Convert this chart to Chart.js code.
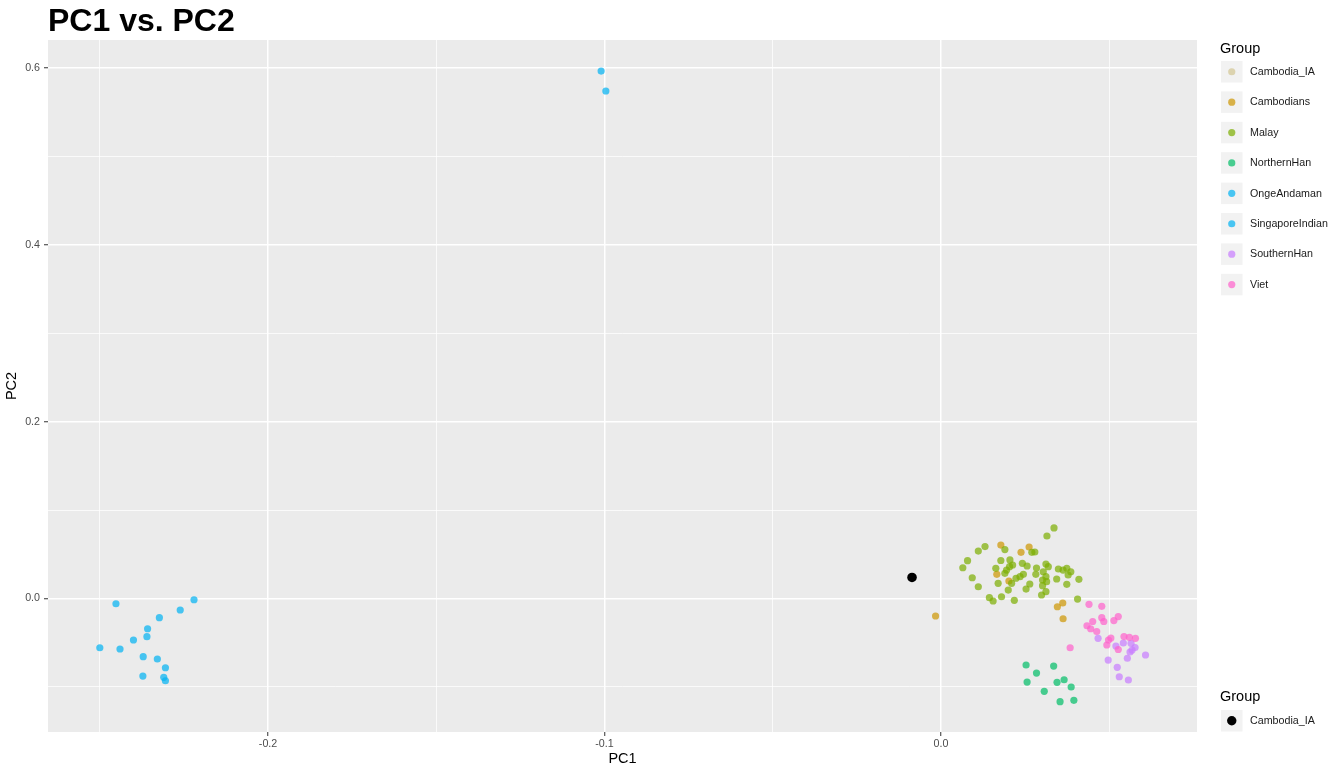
<!DOCTYPE html>
<html>
<head>
<meta charset="utf-8">
<title>PC1 vs. PC2</title>
<script src="https://cdn.jsdelivr.net/npm/chart.js@4.4.0/dist/chart.umd.min.js"></script>
<style>
    html, body { margin: 0; padding: 0; background: #fff; }
    #wrap { width: 1343px; height: 775px; }
</style>
</head>
<body>
<div id="wrap"><canvas id="pcaChart" width="1343" height="775"></canvas></div>
<script>
// groups in legend order
const groups = ["Cambodia_IA", "Cambodians", "Malay", "NorthernHan", "OngeAndaman", "SingaporeIndian", "SouthernHan", "Viet"];
const groupColors = [
    "rgba(205,190,130,0.6)",
    "rgba(205,150,0,0.7)",
    "rgba(124,174,0,0.7)",
    "rgba(0,190,103,0.7)",
    "rgba(0,178,242,0.7)",
    "rgba(0,178,242,0.7)",
    "rgba(199,124,255,0.7)",
    "rgba(255,97,204,0.7)"
];

// [PC1, PC2] per sample
const cambodiaIA = [[-0.0086, 0.0238]];
const cambodians = [
    [-0.0016, -0.0198], [0.0178, 0.0605], [0.0262, 0.0583], [0.0238, 0.0523], [0.0166, 0.0274],
    [0.0202, 0.0198], [0.0346, -0.0093], [0.0362, -0.0051], [0.0363, -0.0229]
];
const malay = [
    [0.0336, 0.0798], [0.0315, 0.0707], [0.0131, 0.0588], [0.0111, 0.0537], [0.0190, 0.0554],
    [0.0279, 0.0526], [0.0079, 0.0428], [0.0065, 0.0348], [0.0178, 0.0430], [0.0205, 0.0436],
    [0.0204, 0.0360], [0.0163, 0.0342], [0.0242, 0.0398], [0.0256, 0.0368], [0.0284, 0.0345],
    [0.0312, 0.0390], [0.0319, 0.0360], [0.0349, 0.0334], [0.0363, 0.0322], [0.0374, 0.0342],
    [0.0386, 0.0303], [0.0378, 0.0266], [0.0195, 0.0322], [0.0213, 0.0379], [0.0190, 0.0285],
    [0.0245, 0.0274], [0.0235, 0.0247], [0.0223, 0.0229], [0.0282, 0.0274], [0.0304, 0.0303],
    [0.0312, 0.0247], [0.0302, 0.0209], [0.0093, 0.0235], [0.0111, 0.0133], [0.0170, 0.0172],
    [0.0264, 0.0164], [0.0314, 0.0190], [0.0253, 0.0107], [0.0200, 0.0096], [0.0302, 0.0145],
    [0.0312, 0.0077], [0.0299, 0.0040], [0.0144, 0.0009], [0.0155, -0.0028], [0.0180, 0.0020],
    [0.0218, -0.0020], [0.0410, 0.0217], [0.0374, 0.0161], [0.0344, 0.0221], [0.0406, -0.0006],
    [0.0210, 0.0172], [0.0270, 0.0523]
];
const northernHan = [
    [0.0253, -0.0752], [0.0284, -0.0843], [0.0335, -0.0764], [0.0256, -0.0945], [0.0366, -0.0919],
    [0.0345, -0.0948], [0.0387, -0.1001], [0.0307, -0.1050], [0.0354, -0.1167], [0.0395, -0.1152]
];
const ongeAndaman = [
    [-0.2452, -0.0059], [-0.2220, -0.0014], [-0.2261, -0.0130], [-0.2323, -0.0217], [-0.2358, -0.0342],
    [-0.2360, -0.0432], [-0.2400, -0.0469], [-0.2500, -0.0557], [-0.2440, -0.0571], [-0.2371, -0.0658],
    [-0.2329, -0.0684], [-0.2305, -0.0783], [-0.2372, -0.0877], [-0.2310, -0.0891], [-0.2305, -0.0930]
];
const singaporeIndian = [[-0.1010, 0.5967], [-0.0996, 0.5741]];
const southernHan = [
    [0.0467, -0.0450], [0.0520, -0.0537], [0.0542, -0.0503], [0.0565, -0.0507], [0.0577, -0.0554],
    [0.0562, -0.0605], [0.0554, -0.0676], [0.0608, -0.0639], [0.0497, -0.0696], [0.0524, -0.0778],
    [0.0530, -0.0885], [0.0557, -0.0922], [0.0568, -0.0583]
];
const viet = [
    [0.0440, -0.0066], [0.0478, -0.0088], [0.0451, -0.0260], [0.0434, -0.0308], [0.0445, -0.0342],
    [0.0463, -0.0373], [0.0478, -0.0217], [0.0484, -0.0260], [0.0514, -0.0249], [0.0527, -0.0204],
    [0.0498, -0.0469], [0.0493, -0.0526], [0.0527, -0.0577], [0.0544, -0.0430], [0.0560, -0.0439],
    [0.0578, -0.0450], [0.0384, -0.0557], [0.0505, -0.0447]
];
const groupPoints = [cambodiaIA, cambodians, malay, northernHan, ongeAndaman, singaporeIndian, southernHan, viet];

// axes
const xRange = [-0.2654, 0.0761];
const yRange = [-0.151, 0.6318];
const xTickValues = [-0.2, -0.1, 0.0];
const xTickLabels = ["-0.2", "-0.1", "0.0"];
const xMinorValues = [-0.25, -0.15, -0.05, 0.05];
const yTickValues = [0.0, 0.2, 0.4, 0.6];
const yTickLabels = ["0.0", "0.2", "0.4", "0.6"];
const yMinorValues = [-0.1, 0.1, 0.3, 0.5];

const FONT = '"Liberation Sans", Arial, Helvetica, sans-serif';
Chart.defaults.font.family = FONT;

function findMajor(values, v) {
    return values.findIndex(m => Math.abs(m - v) < 1e-9);
}

function axisOptions(range, majors, minors, labels, isX) {
    const all = majors.concat(minors).sort((a, b) => a - b);
    return {
        type: "linear",
        min: range[0],
        max: range[1],
        afterBuildTicks: s => { s.ticks = all.map(v => ({ value: v })); },
        afterFit: s => {
            if (isX) s.height = 43; else s.width = 48;
        },
        ticks: {
            autoSkip: false,
            maxRotation: 0,
            padding: isX ? 2 : 4,
            color: "#4D4D4D",
            font: { size: 10.7 },
            callback: v => {
                const i = findMajor(majors, v);
                return i >= 0 ? labels[i] : "";
            }
        },
        grid: {
            color: "#FFFFFF",
            lineWidth: ctx => (ctx.tick && findMajor(majors, ctx.tick.value) >= 0 ? 1.5 : 0.75),
            tickLength: 4,
            tickWidth: 1,
            tickColor: ctx => (ctx.tick && findMajor(majors, ctx.tick.value) >= 0 ? "#333333" : "rgba(0,0,0,0)")
        },
        border: { display: false },
        title: {
            display: true,
            text: isX ? "PC1" : "PC2",
            color: "#000",
            font: { size: 14.5 },
            padding: isX ? { top: 0, bottom: 7 } : { top: 3, bottom: 0 }
        }
    };
}

// grey panel behind the points
const panelBg = {
    id: "panelBg",
    beforeDraw(chart) {
        const { ctx, chartArea: a } = chart;
        ctx.save();
        ctx.fillStyle = "#FFFFFF";
        ctx.fillRect(0, 0, chart.width, chart.height);
        ctx.fillStyle = "#EBEBEB";
        ctx.fillRect(a.left, a.top, a.right - a.left, a.bottom - a.top);
        ctx.restore();
    }
};

// title and the two ggplot-style legends
const titleAndLegend = {
    id: "titleAndLegend",
    afterDraw(chart) {
        const ctx = chart.ctx;
        ctx.save();
        ctx.fillStyle = "#000";
        ctx.textBaseline = "alphabetic";
        ctx.textAlign = "left";
        ctx.font = "bold 32px " + FONT;
        ctx.fillText("PC1 vs. PC2", 48, 30.5);

        ctx.font = "14.5px " + FONT;
        ctx.fillText("Group", 1220, 52.5);
        groups.forEach((g, i) => {
            const top = 61 + i * 30.4;
            ctx.fillStyle = "#F2F2F2";
            ctx.fillRect(1221, top, 21.5, 21.5);
            ctx.fillStyle = groupColors[i];
            ctx.beginPath();
            ctx.arc(1231.75, top + 10.75, 3.6, 0, Math.PI * 2);
            ctx.fill();
            ctx.fillStyle = "#1A1A1A";
            ctx.font = "10.7px " + FONT;
            ctx.textBaseline = "middle";
            ctx.fillText(g, 1250, top + 11);
            ctx.textBaseline = "alphabetic";
        });

        ctx.fillStyle = "#000";
        ctx.font = "14.5px " + FONT;
        ctx.fillText("Group", 1220, 701);
        ctx.fillStyle = "#F2F2F2";
        ctx.fillRect(1221, 710, 21.5, 21.5);
        ctx.fillStyle = "#000";
        ctx.beginPath();
        ctx.arc(1231.75, 720.75, 4.7, 0, Math.PI * 2);
        ctx.fill();
        ctx.fillStyle = "#1A1A1A";
        ctx.font = "10.7px " + FONT;
        ctx.textBaseline = "middle";
        ctx.fillText(groups[0], 1250, 721);
        ctx.restore();
    }
};

const datasets = groups.map((g, i) => ({
    label: g,
    data: groupPoints[i].map(p => ({ x: p[0], y: p[1] })),
    backgroundColor: groupColors[i],
    borderWidth: 0,
    pointRadius: 3.6,
    pointHoverRadius: 3.6,
    order: groups.length - i + 1
}));
datasets.push({
    label: "Cambodia_IA (highlight)",
    data: cambodiaIA.map(p => ({ x: p[0], y: p[1] })),
    backgroundColor: "#000000",
    borderWidth: 0,
    pointRadius: 4.8,
    pointHoverRadius: 4.8,
    order: 0
});

const ctx = document.getElementById("pcaChart").getContext("2d");
new Chart(ctx, {
    type: "scatter",
    data: { datasets: datasets },
    options: {
        responsive: false,
        animation: false,
        layout: { padding: { top: 40, right: 146, left: 0, bottom: 0 } },
        plugins: {
            legend: { display: false },
            tooltip: { enabled: false },
            title: { display: false }
        },
        scales: {
            x: axisOptions(xRange, xTickValues, xMinorValues, xTickLabels, true),
            y: axisOptions(yRange, yTickValues, yMinorValues, yTickLabels, false)
        }
    },
    plugins: [panelBg, titleAndLegend]
});
</script>
</body>
</html>
